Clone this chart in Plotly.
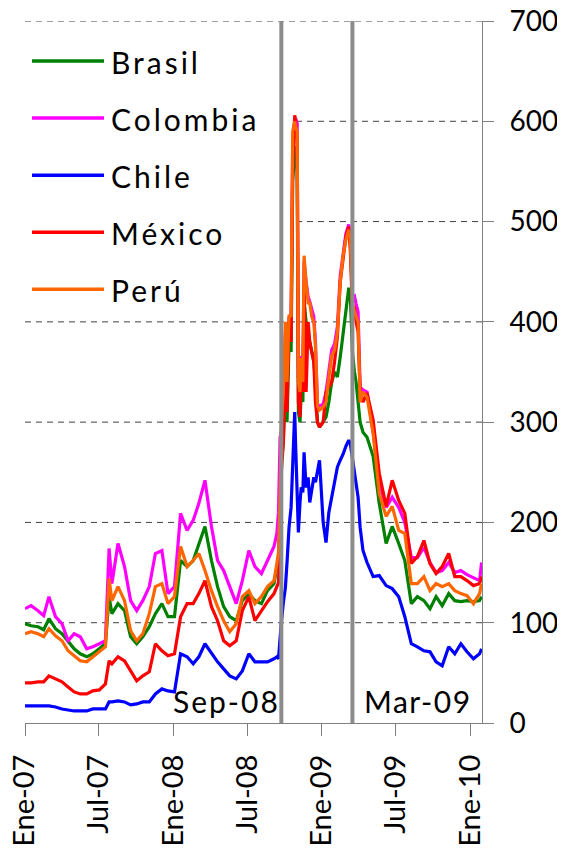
import plotly.graph_objects as go

# ---------------- data ----------------
dates = [
    "2007-01-01", "2007-01-16", "2007-02-02", "2007-02-16", "2007-03-01", "2007-03-17",
    "2007-04-02", "2007-04-17", "2007-05-02", "2007-05-17", "2007-06-02", "2007-06-17",
    "2007-07-03", "2007-07-18", "2007-07-27", "2007-08-03", "2007-08-18", "2007-09-03",
    "2007-09-18", "2007-10-03", "2007-10-18", "2007-11-03", "2007-11-18", "2007-12-04",
    "2007-12-19",
    "2008-01-04", "2008-01-19", "2008-02-04", "2008-02-19", "2008-03-04", "2008-03-19",
    "2008-04-04", "2008-04-19", "2008-05-04", "2008-05-19", "2008-06-04", "2008-06-19",
    "2008-07-05", "2008-07-20", "2008-08-05", "2008-08-20", "2008-09-05",
    "2008-09-12", "2008-09-16", "2008-09-20", "2008-09-23", "2008-09-28", "2008-10-03",
    "2008-10-07", "2008-10-12", "2008-10-17", "2008-10-21", "2008-10-26", "2008-10-28",
    "2008-11-01", "2008-11-04", "2008-11-08", "2008-11-11", "2008-11-15", "2008-11-18",
    "2008-11-23", "2008-11-28", "2008-12-02", "2008-12-07", "2008-12-12", "2008-12-16",
    "2008-12-21", "2008-12-26",
    "2009-01-04", "2009-01-11", "2009-01-18", "2009-01-25", "2009-02-01", "2009-02-08",
    "2009-02-15", "2009-02-22", "2009-03-01", "2009-03-08", "2009-03-12", "2009-03-17",
    "2009-03-22", "2009-03-26", "2009-03-31", "2009-04-05", "2009-04-12", "2009-04-22",
    "2009-05-07", "2009-05-22", "2009-06-08", "2009-06-23", "2009-07-09", "2009-07-24",
    "2009-08-09", "2009-08-24", "2009-09-09", "2009-09-24", "2009-10-09", "2009-10-24",
    "2009-11-09", "2009-11-24", "2009-12-09", "2009-12-24",
    "2010-01-09", "2010-01-24", "2010-01-29",
]

brasil = [
    99, 97, 96, 93, 104, 94, 89, 81, 74, 69, 66, 69, 74, 79, 126, 109, 119, 112, 86, 79,
    86, 96, 109, 119, 106,
    106, 162, 156, 162, 179, 196, 162, 136, 116, 106, 102, 122, 129, 122, 119, 132, 139,
    156, 165, 215, 260, 280, 350, 300, 380, 370, 540, 570, 575, 550, 310, 300, 330, 320,
    420, 400, 385, 380, 370, 360, 340, 300, 295, 300, 305, 320, 340, 350, 345, 365, 389,
    415, 434, 425, 370, 350, 340, 320, 300, 290, 285,
    266, 219, 179, 196, 179, 162, 119, 126, 122, 114, 126, 117, 129, 122, 121, 122,
    121, 122, 126,
]

colombia = [
    114, 117, 112, 107, 126, 106, 99, 82, 89, 86, 74, 76, 79, 82, 174, 139, 179, 156, 122,
    112, 122, 136, 169, 172, 129,
    136, 209, 192, 202, 219, 242, 196, 162, 152, 136, 119, 142, 172, 156, 149, 162, 176,
    189, 210, 285, 290, 320, 390, 350, 405, 400, 580, 600, 603, 598, 345, 335, 366, 350,
    460, 440, 425, 420, 412, 405, 380, 318, 316, 318, 330, 350, 372, 378, 395, 446, 470,
    488, 497, 485, 425, 426, 418, 410, 335, 332, 330,
    290, 240, 215, 225, 215, 200, 165, 165, 175, 160, 150, 152, 160, 150, 152, 148,
    145, 142, 160,
]

chile = [
    17, 17, 17, 17, 17, 16, 14, 13, 12, 12, 12, 14, 14, 14, 21, 21, 22, 21, 18, 19, 21,
    21, 29, 34, 32,
    31, 69, 66, 59, 66, 79, 69, 61, 54, 47, 44, 52, 69, 61, 61, 61, 64,
    66, 64, 90, 100, 120, 135, 160, 195, 215, 255, 310, 280, 215, 190, 220, 235, 230,
    270, 235, 245, 220, 235, 245, 240, 250, 262, 200, 180, 210, 225, 240, 255, 262, 268,
    276, 282, 278, 265, 252, 240, 225, 195, 172, 160,
    146, 147, 137, 134, 126, 106, 79, 76, 72, 71, 61, 57, 76, 69, 79, 71,
    64, 69, 74,
]

mexico = [
    40, 40, 41, 41, 47, 44, 41, 36, 31, 29, 29, 32, 33, 39, 62, 59, 66, 62, 52, 42, 47,
    51, 79, 72, 67,
    69, 106, 119, 119, 129, 142, 116, 102, 82, 77, 82, 112, 126, 102, 112, 121, 129,
    136, 140, 190, 250, 280, 350, 310, 400, 380, 560, 606, 600, 580, 320, 305, 350, 330,
    440, 330, 400, 380, 370, 360, 320, 300, 295, 300, 330, 335, 340, 360, 385, 440, 460,
    485, 495, 470, 410, 415, 400, 390, 330, 320, 329,
    302, 249, 216, 242, 222, 209, 159, 166, 182, 159, 149, 156, 169, 146, 146, 142,
    137, 139, 146,
]

peru = [
    89, 91, 89, 86, 94, 87, 82, 72, 67, 62, 61, 66, 71, 76, 144, 122, 136, 122, 92, 82,
    89, 109, 136, 139, 119,
    126, 176, 156, 162, 169, 152, 132, 116, 102, 91, 99, 126, 132, 119, 126, 136, 142,
    159, 170, 230, 300, 330, 400, 340, 407, 405, 590, 600, 595, 590, 340, 330, 364, 340,
    466, 439, 419, 419, 405, 400, 376, 316, 312, 315, 320, 345, 366, 372, 389, 440, 466,
    482, 492, 480, 420, 410, 405, 400, 320, 330, 325,
    289, 229, 206, 216, 192, 189, 139, 139, 146, 132, 139, 136, 139, 132, 129, 127,
    119, 129, 139,
]

series_names = ["Brasil", "Colombia", "Chile", "México", "Perú"]
series_values = [brasil, colombia, chile, mexico, peru]
series_colors = ["#008000", "#FF00FF", "#0000FF", "#FF0000", "#FF6600"]

x_tick_dates = ["2007-01-01", "2007-07-01", "2008-01-01", "2008-07-01",
                "2009-01-01", "2009-07-01", "2010-01-01"]
x_tick_labels = ["Ene-07", "Jul-07", "Ene-08", "Jul-08", "Ene-09", "Jul-09", "Ene-10"]
y_tick_values = [0, 100, 200, 300, 400, 500, 600, 700]

event_dates = ["2008-09-23", "2009-03-17"]
event_labels = ["Sep-08", "Mar-09"]

x_range = ["2007-01-01", "2010-01-30"]
y_range = [0, 700]

# ---------------- figure ----------------
FONT = "Lato"
LEGEND_RIGHT = 0.593   # paper x where the legend's white box ends
LEGEND_BOTTOM = 0.581  # paper y where the legend's white box ends

fig = go.Figure()

for name, vals, col in zip(series_names, series_values, series_colors):
    fig.add_trace(go.Scatter(
        x=dates, y=vals, mode="lines", name=name,
        line=dict(color=col, width=3.2), showlegend=False,
    ))

# dashed gridlines (hidden behind the legend box, as in the reference)
for v in y_tick_values[1:]:
    yp = (v - y_range[0]) / (y_range[1] - y_range[0])
    x_start = LEGEND_RIGHT if (LEGEND_BOTTOM < yp < 0.987) else 0.0
    fig.add_shape(type="line", xref="paper", yref="y",
                  x0=x_start, x1=1.0, y0=v, y1=v,
                  line=dict(color="#404040", width=1, dash="6px,5px"), layer="below")

# event vertical lines
for d in event_dates:
    fig.add_shape(type="line", xref="x", yref="y", x0=d, x1=d,
                  y0=y_range[0], y1=y_range[1],
                  line=dict(color="#8C8C8C", width=4), layer="above")

# event labels
fig.add_annotation(x=event_dates[0], y=22, xref="x", yref="y",
                   text="<span style='letter-spacing:2px'>%s</span>" % event_labels[0],
                   showarrow=False, xanchor="right", yanchor="middle", xshift=1,
                   font=dict(family=FONT, size=30, color="black"))
fig.add_annotation(x=event_dates[1], y=22, xref="x", yref="y",
                   text="<span style='letter-spacing:1.5px'>%s</span>" % event_labels[1],
                   showarrow=False, xanchor="left", yanchor="middle", xshift=10,
                   font=dict(family=FONT, size=30, color="black"))

# manual legend (long line samples as in reference)
leg_x0, leg_x1, leg_tx = 0.0153, 0.1729, 0.184
leg_y0, leg_dy = 0.943, 0.0813
for i, (name, col) in enumerate(zip(series_names, series_colors)):
    yy = leg_y0 - i * leg_dy
    fig.add_shape(type="line", xref="paper", yref="paper",
                  x0=leg_x0, x1=leg_x1, y0=yy, y1=yy,
                  line=dict(color=col, width=3.5))
    fig.add_annotation(x=leg_tx, y=yy, xref="paper", yref="paper",
                       text="<span style='letter-spacing:3px'>%s</span>" % name,
                       showarrow=False, xanchor="left", yanchor="middle", yshift=-1,
                       font=dict(family=FONT, size=30, color="black"))

# page body adds an 8px offset; the figure is sized so the plot lands where the reference has it
fig.update_layout(
    width=557, height=848, autosize=False,
    margin=dict(l=17, r=83, t=13, b=133, pad=0, autoexpand=False),
    paper_bgcolor="white", plot_bgcolor="white",
    font=dict(family=FONT, color="black"),
    showlegend=False,
)

fig.update_xaxes(
    type="date", range=x_range, automargin=False,
    tickvals=x_tick_dates, ticktext=x_tick_labels,
    tickangle=-90, tickfont=dict(family=FONT, size=29, color="black"),
    ticks="outside", ticklen=12, tickcolor="#808080", tickwidth=1,
    ticklabelstandoff=7, ticklabeloverflow="allow",
    showline=True, linecolor="#808080", linewidth=1,
    showgrid=False, zeroline=False,
)

fig.update_yaxes(
    side="right", range=y_range, tickvals=y_tick_values, automargin=False,
    tickfont=dict(family=FONT, size=28, color="black"),
    ticks="outside", ticklen=11, tickcolor="#808080", tickwidth=1,
    ticklabelstandoff=10, ticklabeloverflow="allow",
    showline=True, linecolor="#808080", linewidth=1,
    showgrid=False, zeroline=False,
)

fig.write_html("out.html")
